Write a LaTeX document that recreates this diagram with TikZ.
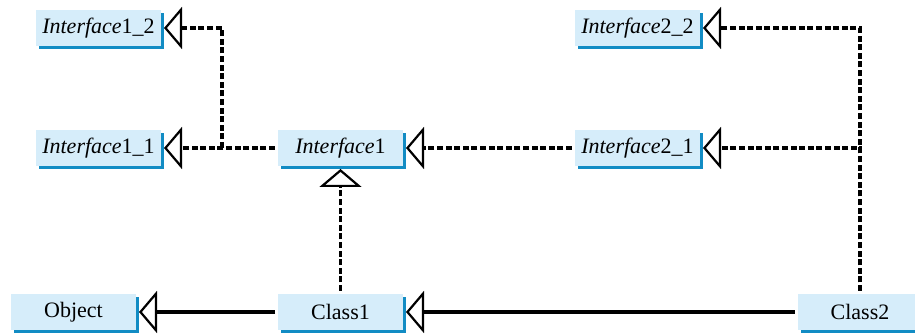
\documentclass[tikz,border=0pt]{standalone}
\usepackage{fontspec}
\setmainfont{Liberation Serif}
\newfontfamily\umlfont{Liberation Serif}
\usepackage{tikz}
\usetikzlibrary{arrows.meta,shadows,positioning}
\definecolor{boxfill}{RGB}{214,237,250}
\definecolor{boxshade}{RGB}{18,140,196}

\begin{document}
\begin{tikzpicture}[
    x=0.5pt, y=-0.5pt,
    umlbox/.style={rectangle, fill=boxfill, minimum width=62.5pt, minimum height=18pt,
               inner sep=0pt, outer sep=1.5pt, font=\umlfont\fontsize{11}{13}\selectfont,
               drop shadow={shadow xshift=1.5pt, shadow yshift=-1.5pt, fill=boxshade, opacity=1}},
    realize/.style={line width=1.6pt, dash pattern=on 3pt off 1.3pt,
               -{Triangle[open, length=9pt, width=21pt, line width=1.1pt]}},
    inherit/.style={line width=1.8pt,
               -{Triangle[open, length=9pt, width=21pt, line width=1.1pt]}}
  ]
    \useasboundingbox (0,0) rectangle (915,335);

    \node[umlbox] (i12) at (98.5, 28) {\textit{Interface}1\_2};
    \node[umlbox] (i11) at (98.5, 148) {\textit{Interface}1\_1};
    \node[umlbox] (i1) at (340.5, 148) {\textit{Interface}1};
    \node[umlbox] (i22) at (637.5, 28) {\textit{Interface}2\_2};
    \node[umlbox] (i21) at (637.5, 148) {\textit{Interface}2\_1};

    \node[umlbox] (obj) at (73.5, 312) {Object};
    \node[umlbox] (c1) at (340.5, 312) {Class1};
    \node[umlbox] (c2) at (860, 312) {Class2};

    \coordinate (jl) at (222, 148);

    % interfaces
    \draw[realize] (i1.west) -- (i11.east);
    \draw[realize] (jl) |- (i12.east);
    \draw[realize] (i21.west) -- (i1.east);
    \draw[realize] (c2.north) |- (i21.east);
    \draw[realize] (c2.north) |- (i22.east);
    \draw[realize] (c1.north) -- (i1.south);

    % classes
    \draw[inherit] (c1.west) -- (obj.east);
    \draw[inherit] (c2.west) -- (c1.east);
\end{tikzpicture}
\end{document}
